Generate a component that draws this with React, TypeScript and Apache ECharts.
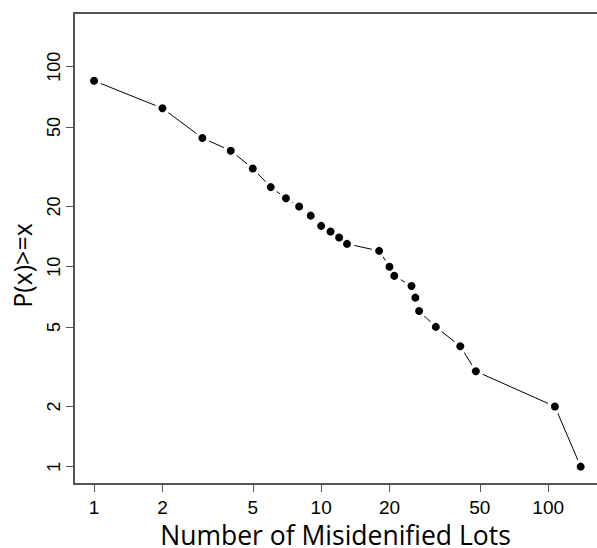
import React, { useEffect, useRef } from "react";
import * as echarts from "echarts";

const lots = [1, 2, 3, 4, 5, 6, 7, 8, 9, 10, 11, 12, 13, 18, 20, 21, 25, 26, 27, 32, 41, 48, 107, 139];
const prob = [85, 62, 44, 38, 31, 25, 22, 20, 18, 16, 15, 14, 13, 12, 10, 9, 8, 7, 6, 5, 4, 3, 2, 1];
const xTicks = [1, 2, 5, 10, 20, 50, 100];
const yTicks = [1, 2, 5, 10, 20, 50, 100];
const xTitle = "Number of Misidenified Lots";
const yTitle = "P(x)>=x";

export default function App() {
  const ref = useRef<HTMLDivElement>(null);
  useEffect(() => {
    if (!ref.current) return;
    const chart = echarts.init(ref.current, null, { renderer: "svg" });
    const pts = lots.map((x, i) => [x, prob[i]]);
    const axisColor = "#555";
    chart.setOption({
      animation: false,
      backgroundColor: "#fff",
      grid: {
        left: 74,
        top: 13,
        bottom: 64,
        right: 0,
        containLabel: false,
        outerBoundsMode: "none",
      },
      xAxis: [
        {
          type: "log",
          min: 0.816,
          max: 164,
          name: xTitle,
          nameLocation: "middle",
          nameGap: 27,
          nameTextStyle: { fontFamily: "Open Sans", fontSize: 26.5, lineHeight: 20, color: "#000" },
          axisLine: { show: true, lineStyle: { color: axisColor, width: 2 } },
          axisTick: { show: true, customValues: xTicks, length: 8, lineStyle: { color: axisColor, width: 1 } },
          axisLabel: { show: true, customValues: xTicks, margin: 14, fontFamily: "Liberation Sans", fontSize: 19, color: "#000" },
          splitLine: { show: false },
          minorTick: { show: false },
        },
        {
          type: "log",
          min: 0.816,
          max: 164,
          position: "top",
          axisLine: { show: true, lineStyle: { color: axisColor, width: 2 } },
          axisTick: { show: false },
          axisLabel: { show: false },
          splitLine: { show: false },
        },
      ],
      yAxis: {
        type: "log",
        min: 0.819,
        max: 185.6,
        name: yTitle,
        nameLocation: "middle",
        nameGap: 40,
        nameRotate: 90,
        nameTextStyle: { fontFamily: "Open Sans", fontSize: 25, color: "#000", padding: [0, 34, 0, 0] },
        axisLine: { show: true, lineStyle: { color: axisColor, width: 2 } },
        axisTick: { show: true, customValues: yTicks, length: 8, lineStyle: { color: axisColor, width: 1 } },
        axisLabel: { show: true, customValues: yTicks, rotate: 90, margin: 11, fontFamily: "Liberation Sans", fontSize: 18, color: "#000" },
        splitLine: { show: false },
      },
      series: [
        {
          type: "line",
          data: pts,
          symbol: "circle",
          symbolSize: 15,
          showSymbol: true,
          showAllSymbol: true,
          itemStyle: { color: "#fff", opacity: 1 },
          lineStyle: { color: "#000", width: 1 },
          z: 2,
          silent: true,
        },
        {
          type: "scatter",
          data: pts,
          symbol: "circle",
          symbolSize: 8,
          itemStyle: { color: "#000", opacity: 1 },
          z: 5,
          silent: true,
        },
      ],
    });
    return () => chart.dispose();
  }, []);
  return (
    <div
      ref={ref}
      style={{ position: "fixed", left: 0, top: 0, width: 597, height: 548, background: "#fff" }}
    />
  );
}
